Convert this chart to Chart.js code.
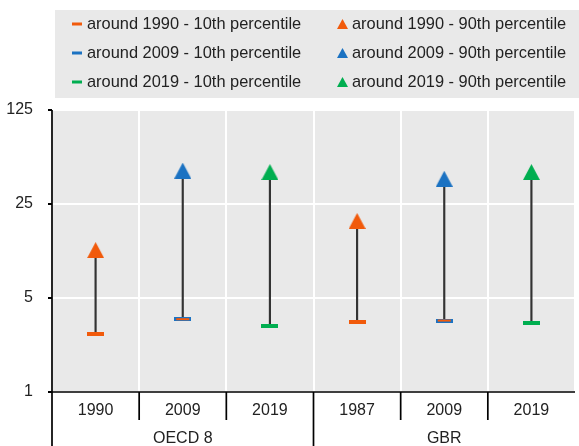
<!DOCTYPE html>
<html>
<head>
<meta charset="utf-8">
<script src="https://cdn.jsdelivr.net/npm/chart.js@4.4.1/dist/chart.umd.min.js"></script>
<style>
  html, body { margin: 0; padding: 0; background: #fff; overflow: hidden; }
  #wrap { width: 579px; height: 446px; overflow: hidden; }
</style>
</head>
<body>
<div id="wrap"><canvas id="chart" width="584" height="446"></canvas></div>
<script>
// data
const categories = ['1990', '2009', '2019', '1987', '2009', '2019'];
const groups = ['OECD 8', 'GBR'];
const categoryGroup = [0, 0, 0, 1, 1, 1];
const categoryPeriod = [0, 1, 2, 0, 1, 2];
const periods = ['around 1990', 'around 2009', 'around 2019'];
const low10th = [2.72, 3.48, 3.10, 3.32, 3.40, 3.25];
const high90th = [11.35, 44.3, 43.2, 18.7, 38.5, 43.2];
const yTicks = [1, 5, 25, 125];
const yTickLabels = ['1', '5', '25', '125'];

const periodColors = ['#F15A0B', '#1B72C2', '#00AE50'];
const plotBg = '#E9E9E9';
const textColor = '#222';
const FONT = "'Liberation Sans', Arial, sans-serif";

// marker images
function dashImg(color, inner) {
    const c = document.createElement('canvas');
    c.width = 17; c.height = 4;
    const g = c.getContext('2d');
    g.fillStyle = color;
    g.fillRect(0, 0, 17, 4);
    if (inner) { g.fillStyle = inner; g.fillRect(2, 1, 13, 2); }
    return c;
}
function triImg(color) {
    const c = document.createElement('canvas');
    c.width = 17; c.height = 16;
    const g = c.getContext('2d');
    g.fillStyle = color;
    g.beginPath();
    g.moveTo(8.5, 0); g.lineTo(17, 16); g.lineTo(0, 16);
    g.closePath(); g.fill();
    return c;
}

const datasets = [{
    type: 'bar',
    label: 'range',
    data: categories.map((_, i) => [low10th[i], high90th[i]]),
    backgroundColor: '#333',
    barThickness: 1.5,
    order: 10
}];
periods.forEach((p, k) => {
    datasets.push({
        type: 'line',
        label: p + ' - 10th percentile',
        kind: 'low',
        color: periodColors[k],
        data: low10th.map((v, i) => categoryPeriod[i] === k ? v : null),
        showLine: false,
        pointStyle: dashImg(periodColors[k], k === 1 ? periodColors[0] : null),
        pointRadius: 8,
        order: 1
    });
    datasets.push({
        type: 'line',
        label: p + ' - 90th percentile',
        kind: 'high',
        color: periodColors[k],
        data: high90th.map((v, i) => categoryPeriod[i] === k ? v : null),
        showLine: false,
        pointStyle: triImg(periodColors[k]),
        pointRadius: 8,
        order: 0
    });
});

// grey plot background
const bgPlugin = {
    id: 'bg',
    beforeDraw(chart) {
        const a = chart.chartArea, ctx = chart.ctx;
        ctx.save();
        ctx.fillStyle = plotBg;
        ctx.fillRect(a.left, a.top, a.right - a.left, a.bottom - a.top);
        ctx.restore();
    }
};

// axes lines, category dividers, group labels
const axisPlugin = {
    id: 'axes2',
    afterDraw(chart) {
        const ctx = chart.ctx, a = chart.chartArea, x = chart.scales.x;
        const step = x.getPixelForValue(1) - x.getPixelForValue(0);
        ctx.save();
        ctx.strokeStyle = '#000';
        ctx.lineWidth = 1.7;
        ctx.beginPath();
        ctx.moveTo(a.left, a.top); ctx.lineTo(a.left, chart.height);
        ctx.moveTo(a.left, a.bottom); ctx.lineTo(a.right, a.bottom);
        for (let k = 1; k < categories.length; k++) {
            const px = x.getPixelForValue(k) - step / 2;
            const isGroup = categoryGroup[k] !== categoryGroup[k - 1];
            ctx.moveTo(px, a.bottom);
            ctx.lineTo(px, isGroup ? chart.height : a.bottom + 28);
        }
        ctx.stroke();

        ctx.fillStyle = textColor;
        ctx.font = '16px ' + FONT;
        ctx.textAlign = 'center';
        ctx.textBaseline = 'middle';
        groups.forEach((g, gi) => {
            const idx = categoryGroup.map((v, i) => v === gi ? i : -1).filter(i => i >= 0);
            const left = x.getPixelForValue(idx[0]) - step / 2;
            const right = x.getPixelForValue(idx[idx.length - 1]) + step / 2;
            ctx.fillText(g, (left + right) / 2, a.bottom + 47);
        });
        ctx.restore();
    }
};

// legend box: column 1 = 10th, column 2 = 90th
const legendPlugin = {
    id: 'legend2',
    afterDraw(chart) {
        const ctx = chart.ctx;
        ctx.save();
        ctx.fillStyle = plotBg;
        ctx.fillRect(55, 10, 530, 88);
        ctx.font = '16.4px ' + FONT;
        ctx.textBaseline = 'middle';
        ctx.textAlign = 'left';
        const rowY = [24, 53, 82];
        chart.data.datasets.filter(d => d.kind).forEach((d, i) => {
            const row = Math.floor(i / 2);
            const y = rowY[row];
            ctx.fillStyle = d.color;
            let tx;
            if (d.kind === 'low') {
                ctx.fillRect(72, y - 1.5, 10, 3);
                tx = 87;
            } else {
                ctx.beginPath();
                ctx.moveTo(342.5, y - 5); ctx.lineTo(348, y + 5); ctx.lineTo(337, y + 5);
                ctx.closePath(); ctx.fill();
                tx = 352;
            }
            ctx.fillStyle = textColor;
            ctx.fillText(d.label, tx, y);
        });
        ctx.restore();
    }
};

new Chart(document.getElementById('chart'), {
    type: 'bar',
    data: { labels: categories, datasets: datasets },
    options: {
        responsive: false,
        animation: false,
        layout: { padding: { top: 110, left: 0, right: 1, bottom: 0 } },
        plugins: { legend: { display: false }, tooltip: { enabled: false } },
        font: { family: FONT },
        scales: {
            x: {
                offset: true,
                grid: { offset: true, color: '#fff', lineWidth: 2, drawTicks: false },
                border: { display: false },
                ticks: { color: textColor, font: { size: 16, family: FONT }, padding: 9, maxRotation: 0 },
                afterFit(scale) { scale.height = 54; }
            },
            y: {
                type: 'logarithmic',
                min: 1,
                max: 125,
                grid: { color: '#fff', lineWidth: 2, tickColor: '#000', tickLength: 4 },
                border: { display: false },
                afterBuildTicks(scale) { scale.ticks = yTicks.map(v => ({ value: v })); },
                ticks: {
                    color: textColor,
                    font: { size: 16, family: FONT },
                    padding: 15,
                    callback: (v) => yTickLabels[yTicks.indexOf(v)] ?? ''
                },
                afterFit(scale) { scale.width = 52; }
            }
        }
    },
    plugins: [bgPlugin, axisPlugin, legendPlugin]
});
</script>
</body>
</html>
